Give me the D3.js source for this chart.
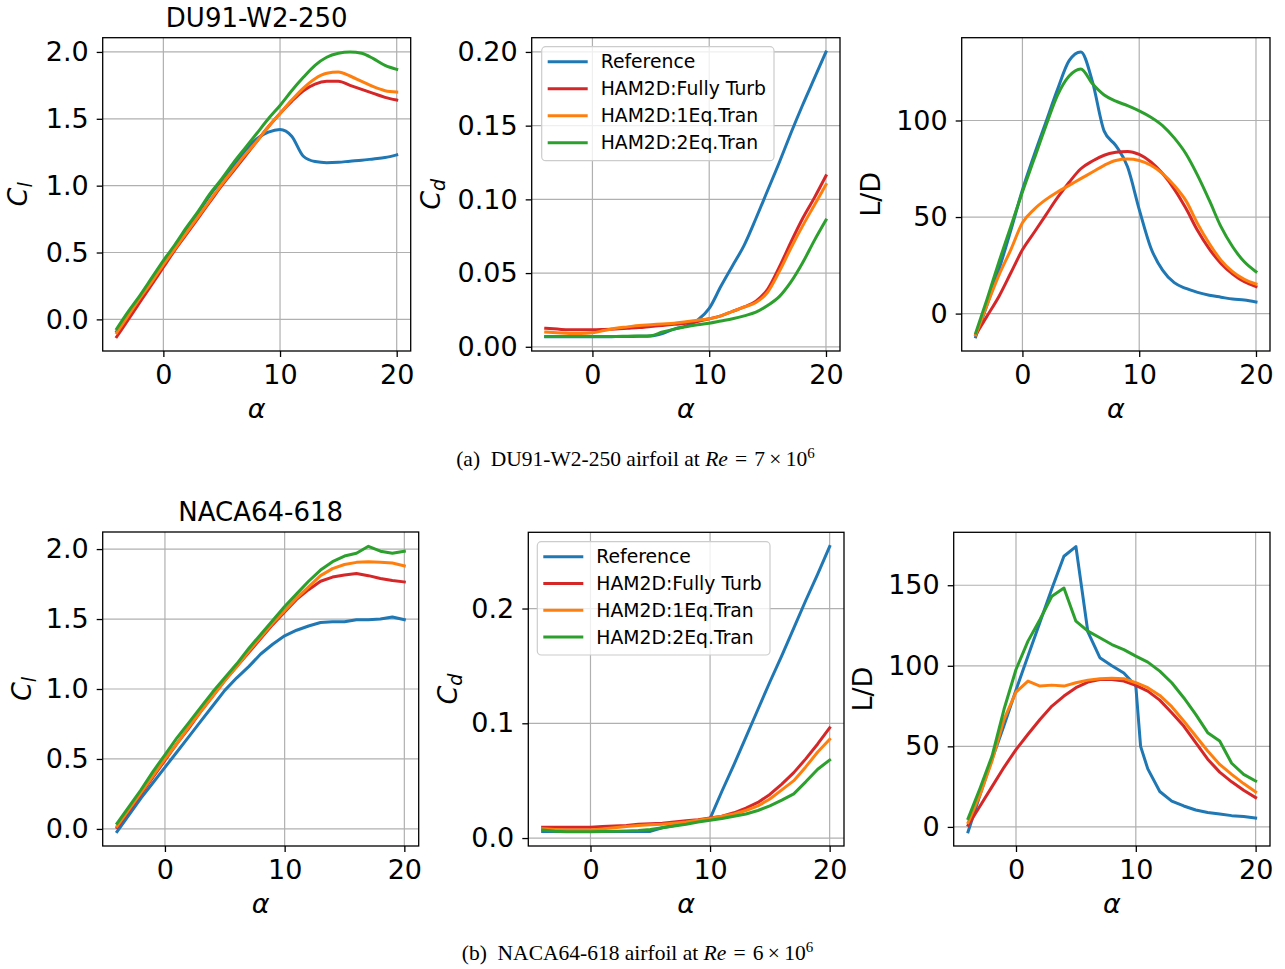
<!DOCTYPE html>
<html><head><meta charset="utf-8">
<script src="https://cdn.jsdelivr.net/npm/d3@7"></script>
<style>body{margin:0;background:#fff}svg{display:block}</style>
</head><body><svg id="c" width="1285" height="969"></svg>
<script>
// ---------- DATA ----------
const alpha = [-4,-3,-2,-1,0,1,2,3,4,5,6,7,8,9,10,11,12,13,14,15,16,17,18,19,20];
const alphaRefLDNaca = [-4,-3,-2,-1,0,1,2,3,4,5,6,7,8,9,10,10.4,11,12,13,14,15,16,17,18,19,20];
const seriesNames = ["Reference","HAM2D:Fully Turb","HAM2D:1Eq.Tran","HAM2D:2Eq.Tran"];
const seriesColors = ["#1f77b4","#d62728","#ff7f0e","#2ca02c"];
const xTicks = [0,10,20];

// DU91-W2-250, Re = 7e6
const duClRef  = [-0.09,0.04,0.17,0.30,0.43,0.55,0.68,0.80,0.93,1.04,1.15,1.26,1.35,1.40,1.42,1.37,1.22,1.18,1.172,1.175,1.183,1.19,1.20,1.21,1.23];
const duClTurb = [-0.13,0.00,0.13,0.26,0.39,0.52,0.64,0.76,0.88,1.00,1.11,1.22,1.33,1.44,1.54,1.63,1.71,1.76,1.78,1.78,1.75,1.72,1.69,1.66,1.64];
const duCl1Eq  = [-0.10,0.03,0.16,0.28,0.41,0.53,0.65,0.77,0.89,1.01,1.12,1.23,1.33,1.44,1.54,1.64,1.73,1.80,1.84,1.85,1.82,1.78,1.74,1.71,1.70];
const duCl2Eq  = [-0.07,0.06,0.18,0.31,0.44,0.56,0.69,0.81,0.94,1.05,1.17,1.28,1.39,1.50,1.60,1.71,1.81,1.90,1.96,1.99,2.00,1.99,1.95,1.90,1.87];

const duCdRef  = [0.0068,0.0068,0.0068,0.0068,0.0068,0.0068,0.0069,0.007,0.0071,0.0073,0.009,0.012,0.014,0.018,0.026,0.041,0.055,0.069,0.087,0.106,0.125,0.145,0.164,0.182,0.200];
const duCdTurb = [0.0125,0.012,0.0115,0.0115,0.0115,0.0117,0.012,0.0125,0.013,0.0138,0.0145,0.0152,0.016,0.0172,0.019,0.021,0.024,0.027,0.031,0.039,0.054,0.071,0.087,0.101,0.116];
const duCd1Eq  = [0.010,0.0095,0.009,0.009,0.0095,0.011,0.0125,0.0135,0.0145,0.015,0.0155,0.016,0.017,0.018,0.019,0.021,0.024,0.027,0.030,0.037,0.051,0.067,0.082,0.096,0.110];
const duCd2Eq  = [0.007,0.007,0.007,0.007,0.007,0.007,0.007,0.0072,0.0073,0.0075,0.010,0.012,0.0135,0.015,0.016,0.0175,0.019,0.021,0.0235,0.028,0.034,0.044,0.057,0.072,0.086];

const duLDRef  = [-12,5,23,43,64,82,99,116,131,135.5,120,94.5,87,76,54,34,22.5,16,13,11,9.5,8.5,7.5,7,6];
const duLDTurb = [-11,-1,9,21,33,42,51,60,68,75,79,82,83.5,84,82.4,78.5,72.5,64.5,54.5,43,33.5,26,20.5,16.5,14];
const duLD1Eq  = [-11,5,20,33,47,54,59,63,66.4,69.9,73.3,76.8,79.3,80,79.3,76.8,72.5,66.4,58.5,46.6,36.3,27.7,21.7,17.7,15.3];
const duLD2Eq  = [-10,8,27,45,63,80,97,113,123,126.7,119,113.2,110,107.7,105,101.7,97.4,91,82.8,71.6,58.7,45,34.6,26.8,21.7];

// NACA64-618, Re = 6e6
const naClRef  = [-0.02,0.10,0.22,0.33,0.44,0.55,0.66,0.77,0.88,0.99,1.08,1.16,1.25,1.32,1.38,1.42,1.45,1.475,1.48,1.48,1.495,1.495,1.50,1.515,1.495];
const naClTurb = [0.01,0.13,0.25,0.37,0.49,0.61,0.72,0.84,0.95,1.06,1.16,1.26,1.36,1.46,1.55,1.64,1.71,1.77,1.80,1.815,1.825,1.81,1.79,1.775,1.765];
const naCl1Eq  = [0.02,0.14,0.26,0.38,0.50,0.61,0.73,0.84,0.95,1.06,1.16,1.27,1.37,1.47,1.56,1.65,1.73,1.81,1.86,1.89,1.905,1.91,1.905,1.90,1.88];
const naCl2Eq  = [0.04,0.16,0.28,0.41,0.53,0.65,0.76,0.87,0.98,1.08,1.18,1.29,1.39,1.49,1.59,1.68,1.77,1.85,1.91,1.95,1.97,2.02,1.985,1.97,1.985];

const naCdRef  = [0.0058,0.0058,0.0058,0.0058,0.0058,0.0058,0.0058,0.0058,0.0058,0.0058,0.009,0.011,0.013,0.015,0.017,0.041,0.064,0.088,0.112,0.136,0.159,0.183,0.207,0.230,0.254];
const naCdTurb = [0.0095,0.0095,0.0095,0.0095,0.0095,0.010,0.0105,0.011,0.012,0.0125,0.013,0.014,0.015,0.016,0.0175,0.019,0.022,0.026,0.031,0.038,0.047,0.057,0.069,0.082,0.096];
const naCd1Eq  = [0.008,0.0075,0.007,0.007,0.007,0.008,0.009,0.010,0.011,0.0115,0.012,0.013,0.014,0.0155,0.017,0.019,0.021,0.024,0.028,0.034,0.042,0.050,0.062,0.075,0.086];
const naCd2Eq  = [0.007,0.006,0.0055,0.0055,0.0055,0.0058,0.006,0.0062,0.0065,0.0075,0.009,0.0105,0.012,0.014,0.0155,0.017,0.019,0.021,0.024,0.028,0.033,0.0385,0.049,0.060,0.068];

const naLDRef  = [-3,20,42,63,85,106,127,148,168,174,121,105,100,95.5,87.5,50,36,22,16,13,10.5,9,8,7,6.5,5.5];
const naLDTurb = [1,13,25,37,48,57.5,66.7,75,81.2,86.4,89.9,91.5,91.5,90.5,87.8,84.3,78.7,70.9,62.6,52.3,42,34,28,22.7,18.2];
const naLD1Eq  = [2.7,20,41,66.7,83.7,90.5,87.4,88,87.4,89.5,91.1,92,92.2,92,89.5,86.4,81.6,74.6,65.7,56.4,47.1,38.8,32.6,26.9,21.7];
const naLD2Eq  = [5.2,24,44,73,97.7,115.3,128.7,143.2,148.3,127.7,121.5,117.4,113.2,110,106,102.3,96.7,89.5,80.2,69.8,58.5,53.3,39.5,32.6,28.5];

const yTicksCl = [0.0,0.5,1.0,1.5,2.0];
const yTicksCdDU = [0.00,0.05,0.10,0.15,0.20];
const yTicksLDDU = [0,50,100];
const yTicksCdNa = [0.0,0.1,0.2];
const yTicksLDNa = [0,50,100,150];

// ---------- LAYOUT ----------
const panels = [
  {frame:[102.7,37.7,410.7,351], ys:[duClRef,duClTurb,duCl1Eq,duCl2Eq], xs:[alpha,alpha,alpha,alpha], yt:yTicksCl, fmt:".1f", label:"Cl", lx:76, title:"DU91-W2-250", smooth:true},
  {frame:[531.7,37.7,840,351], ys:[duCdRef,duCdTurb,duCd1Eq,duCd2Eq], xs:[alpha,alpha,alpha,alpha], yt:yTicksCdDU, fmt:".2f", label:"Cd", lx:92, legend:[541.7,46.7,774,160.7], smooth:true},
  {frame:[961.7,37.7,1270,351], ys:[duLDRef,duLDTurb,duLD1Eq,duLD2Eq], xs:[alpha,alpha,alpha,alpha], yt:yTicksLDDU, fmt:"d", label:"LD", lx:82, smooth:true},
  {frame:[102.7,532,418.7,846], ys:[naClRef,naClTurb,naCl1Eq,naCl2Eq], xs:[alpha,alpha,alpha,alpha], yt:yTicksCl, fmt:".1f", label:"Cl", lx:72, title:"NACA64-618"},
  {frame:[528.3,532.3,844,846], ys:[naCdRef,naCdTurb,naCd1Eq,naCd2Eq], xs:[alpha,alpha,alpha,alpha], yt:yTicksCdNa, fmt:".1f", label:"Cd", lx:71, legend:[537.3,541.7,770,655]},
  {frame:[953.7,532.3,1270,846], ys:[naLDRef,naLDTurb,naLD1Eq,naLD2Eq], xs:[alphaRefLDNaca,alpha,alpha,alpha], yt:yTicksLDNa, fmt:"d", label:"LD", lx:82}
];

const svg = d3.select("#c");
const FONT = "DejaVu Sans, sans-serif";

function padDomain(lo, hi){ const m=(hi-lo)*0.05; return [lo-m, hi+m]; }

panels.forEach(p=>{
  const [l,t,r,b] = p.frame;
  const allX = p.xs.flat(), allY = p.ys.flat();
  const x = d3.scaleLinear().domain(padDomain(d3.min(allX), d3.max(allX))).range([l,r]);
  const y = d3.scaleLinear().domain(padDomain(d3.min(allY), d3.max(allY))).range([b,t]);
  const g = svg.append("g");

  // grid
  g.append("g").selectAll("line").data(xTicks).join("line")
    .attr("x1",d=>x(d)).attr("x2",d=>x(d)).attr("y1",t).attr("y2",b)
    .attr("stroke","#b0b0b0").attr("stroke-width",1.2);
  g.append("g").selectAll("line").data(p.yt).join("line")
    .attr("y1",d=>y(d)).attr("y2",d=>y(d)).attr("x1",l).attr("x2",r)
    .attr("stroke","#b0b0b0").attr("stroke-width",1.2);

  // lines
  const line = d3.line().curve(p.smooth ? d3.curveMonotoneX : d3.curveLinear);
  p.ys.forEach((vals,i)=>{
    const xs = p.xs[i];
    g.append("path").attr("d", line(vals.map((v,k)=>[x(xs[k]), y(v)])))
      .attr("fill","none").attr("stroke",seriesColors[i]).attr("stroke-width",3)
      .attr("stroke-linejoin","round").attr("stroke-linecap","square");
  });

  // axes
  const ax = g.append("g").attr("transform",`translate(0,${b})`)
    .call(d3.axisBottom(x).tickValues(xTicks).tickFormat(d3.format("d")).tickSize(6).tickPadding(8));
  const ay = g.append("g").attr("transform",`translate(${l},0)`)
    .call(d3.axisLeft(y).tickValues(p.yt).tickFormat(d3.format(p.fmt)).tickSize(6).tickPadding(8));
  [ax,ay].forEach(a=>{
    a.select(".domain").remove();
    a.selectAll("line").attr("stroke","#000").attr("stroke-width",1.3);
    a.selectAll("text").attr("font-family",FONT).attr("font-size",27).attr("fill","#000");
  });

  // frame
  g.append("rect").attr("x",l).attr("y",t).attr("width",r-l).attr("height",b-t)
    .attr("fill","none").attr("stroke","#000").attr("stroke-width",1.3);

  // x label
  g.append("text").attr("x",(l+r)/2).attr("y",b+67).attr("text-anchor","middle")
    .attr("font-family",FONT).attr("font-size",27).attr("font-style","italic").text("α");

  // y label
  const yl = g.append("text").attr("transform",`translate(${l-p.lx},${(t+b)/2}) rotate(-90)`)
    .attr("text-anchor","middle").attr("font-family",FONT).attr("font-size",27);
  if(p.label==="LD"){ yl.text("L/D"); }
  else {
    yl.append("tspan").attr("font-style","italic").text("C");
    yl.append("tspan").attr("font-style","italic").attr("font-size",19).attr("dy",5).text(p.label==="Cl"?"l":"d");
  }

  // title
  if(p.title){
    g.append("text").attr("x",(l+r)/2).attr("y",t-11).attr("text-anchor","middle")
      .attr("font-family",FONT).attr("font-size",26).text(p.title);
  }

  // legend
  if(p.legend){
    const [lx0,ly0,lx1,ly1] = p.legend;
    g.append("rect").attr("x",lx0).attr("y",ly0).attr("width",lx1-lx0).attr("height",ly1-ly0)
      .attr("rx",4).attr("fill","rgba(255,255,255,0.8)").attr("stroke","#cccccc").attr("stroke-width",1.2);
    const rowH = (ly1-ly0-33)/3;
    seriesNames.forEach((nm,i)=>{
      const yy = ly0+15+i*rowH;
      g.append("line").attr("x1",lx0+6).attr("x2",lx0+46).attr("y1",yy).attr("y2",yy)
        .attr("stroke",seriesColors[i]).attr("stroke-width",3);
      g.append("text").attr("x",lx0+59).attr("y",yy+6.5).attr("font-family",FONT).attr("font-size",18.8).text(nm);
    });
  }
});

// captions
const captions = [
  {x:635.5, y:466, tag:"(a)", name:"DU91-W2-250", re:"7"},
  {x:637.5, y:960, tag:"(b)", name:"NACA64-618", re:"6"}
];
captions.forEach(c=>{
  const tx = svg.append("text").attr("x",c.x).attr("y",c.y).attr("text-anchor","middle")
    .attr("font-family","Liberation Serif, Times New Roman, serif").attr("font-size",21.5).attr("fill","#000");
  tx.append("tspan").text(c.tag+"\u2002"+c.name+" airfoil at ");
  tx.append("tspan").attr("font-style","italic").text("Re");
  tx.append("tspan").text("\u2004=\u2004"+c.re+"\u2009×\u200910");
  tx.append("tspan").attr("font-size",15).attr("dy",-8).text("6");
});
</script></body></html>
